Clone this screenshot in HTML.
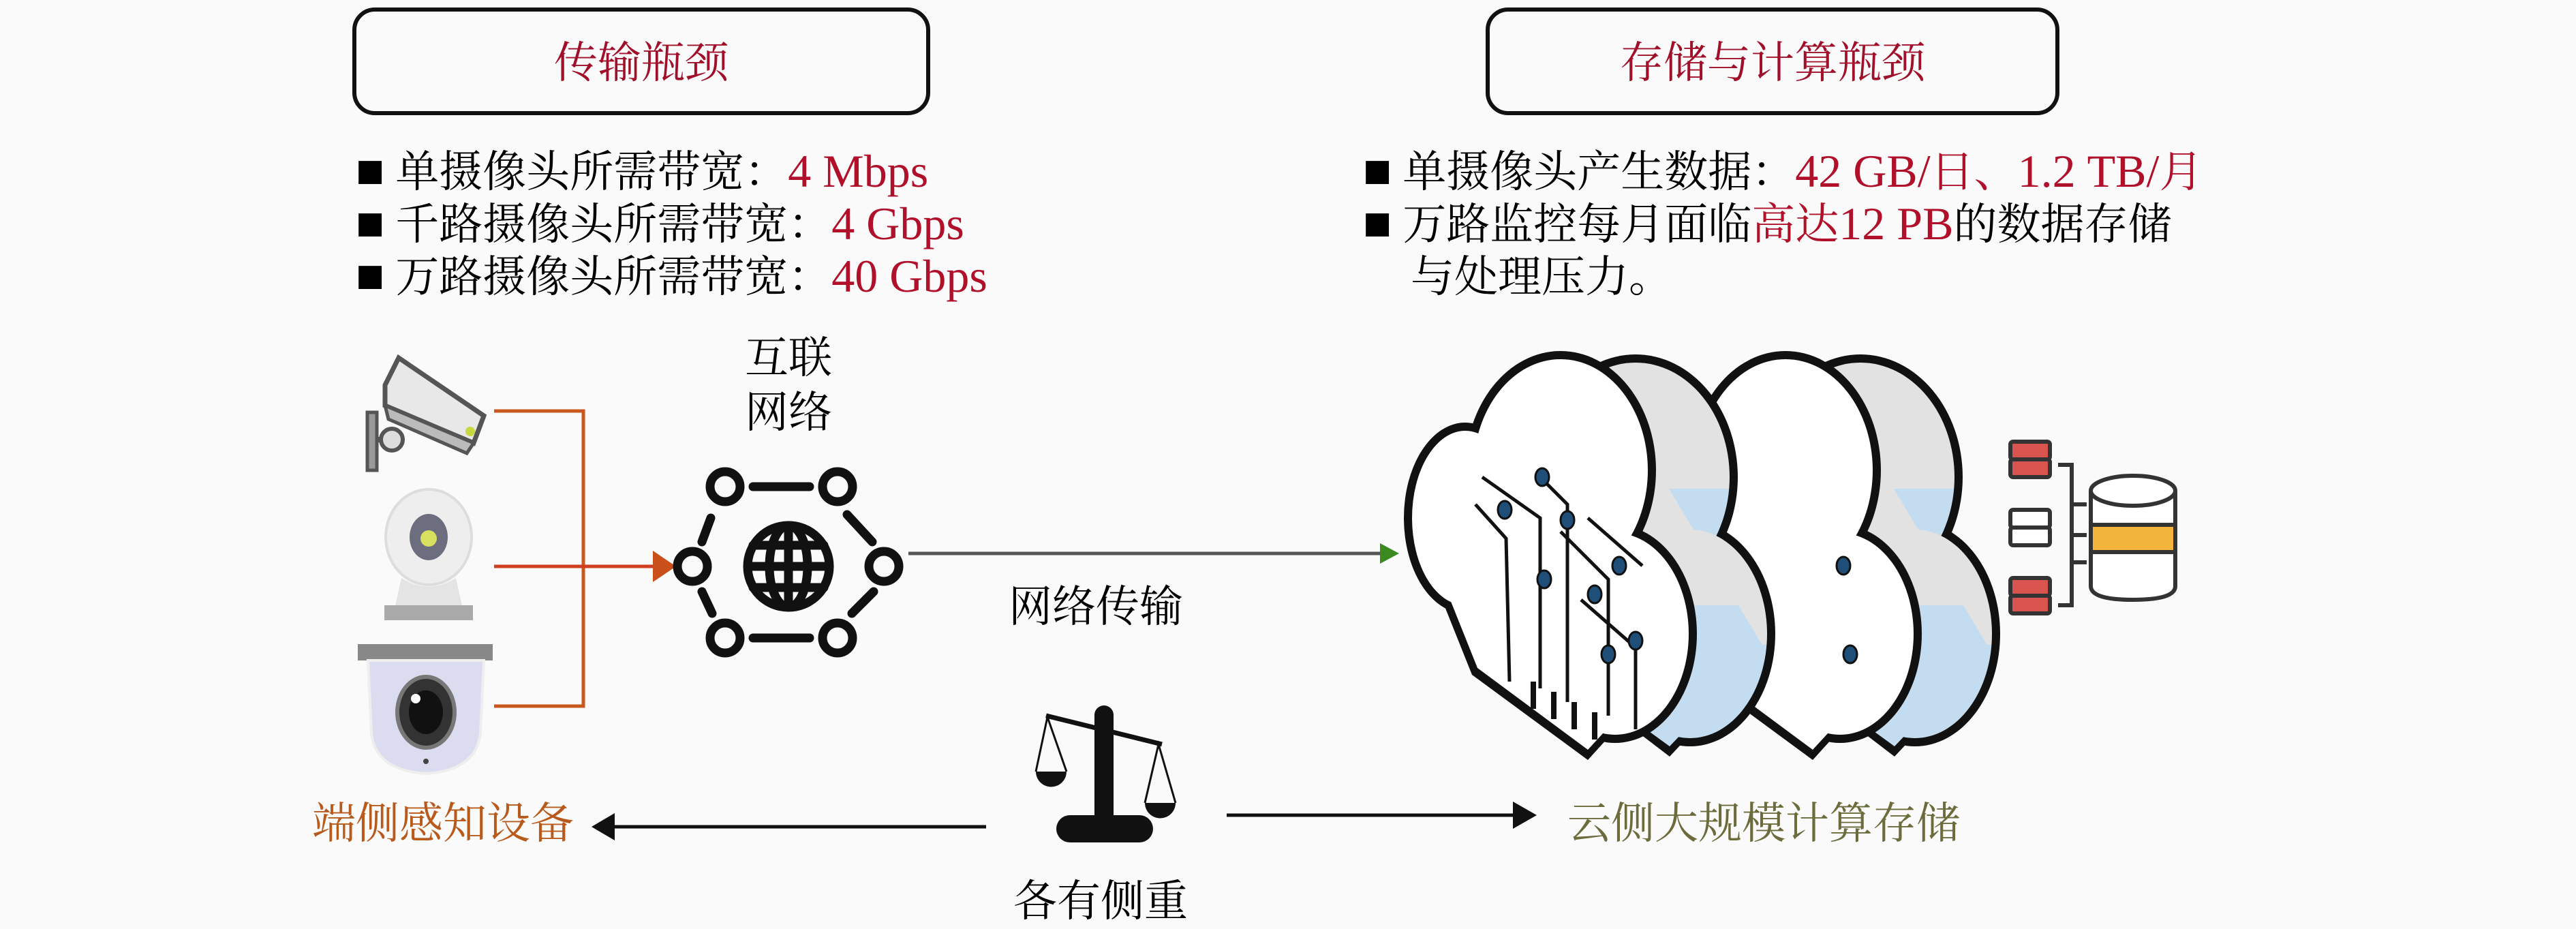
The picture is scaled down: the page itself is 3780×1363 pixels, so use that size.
<!DOCTYPE html>
<html><head><meta charset="utf-8"><style>
html,body{margin:0;padding:0;background:#fafafa}
svg{display:block}
text{font-family:"Liberation Serif","Noto Serif CJK SC",serif}
</style></head><body>
<svg width="3780" height="1363" viewBox="0 0 3780 1363" xmlns="http://www.w3.org/2000/svg">
<defs>
<linearGradient id="side" x1="0" y1="0" x2="0" y2="1" gradientUnits="objectBoundingBox">
<stop offset="0" stop-color="#e2e2e2"/><stop offset="0.55" stop-color="#e2e2e2"/><stop offset="0.55" stop-color="#c4dcef"/><stop offset="1" stop-color="#c4dcef"/>
</linearGradient>
</defs>
<rect width="3780" height="1363" fill="#fafafa"/>

<!-- top boxes -->
<rect x="520" y="14" width="842" height="152" rx="30" fill="none" stroke="#111" stroke-width="6"/>
<text x="941" y="114" font-size="64" fill="#a0102a" text-anchor="middle">传输瓶颈</text>
<rect x="2183" y="14" width="836" height="152" rx="30" fill="none" stroke="#111" stroke-width="6"/>
<text x="2601" y="114" font-size="64" fill="#a0102a" text-anchor="middle">存储与计算瓶颈</text>

<!-- bullets -->
<g font-size="64">
<text x="522" y="274"><tspan font-size="70">■</tspan> 单摄像头所需带宽：<tspan fill="#b0102a" font-size="68">4 Mbps</tspan></text>
<text x="522" y="351"><tspan font-size="70">■</tspan> 千路摄像头所需带宽：<tspan fill="#b0102a" font-size="68">4 Gbps</tspan></text>
<text x="522" y="428"><tspan font-size="70">■</tspan> 万路摄像头所需带宽：<tspan fill="#b0102a" font-size="68">40 Gbps</tspan></text>
<text x="2000" y="274"><tspan font-size="70">■</tspan> 单摄像头产生数据：<tspan fill="#b0102a"><tspan font-size="68">42 GB/</tspan>日、<tspan font-size="68">1.2 TB/</tspan>月</tspan></text>
<text x="2000" y="351"><tspan font-size="70">■</tspan> 万路监控每月面临<tspan fill="#b0102a">高达<tspan font-size="68">12 PB</tspan></tspan>的数据存储</text>
<text x="2070" y="428">与处理压力。</text>
</g>

<!-- cameras -->
<g>
 <g transform="translate(535,525)">
  <rect x="4" y="80" width="14" height="85" fill="#999" stroke="#555" stroke-width="5"/>
  <circle cx="40" cy="120" r="16" fill="#ddd" stroke="#555" stroke-width="6"/>
  <line x1="18" y1="120" x2="24" y2="120" stroke="#555" stroke-width="8"/>
  <polygon points="30,40 50,0 175,85 160,125 30,70" fill="#e8e8e8" stroke="#555" stroke-width="7"/>
  <polygon points="30,70 160,125 150,140 35,90" fill="#bbb" stroke="#555" stroke-width="5"/>
  <circle cx="155" cy="108" r="7" fill="#c8d840"/>
 </g>
 <g transform="translate(559,718)">
  <ellipse cx="70" cy="70" rx="63" ry="70" fill="#eee" stroke="#ddd" stroke-width="4"/>
  <ellipse cx="70" cy="70" rx="28" ry="34" fill="#6d6d80"/>
  <circle cx="70" cy="72" r="12" fill="#d8e060"/>
  <path d="M30,130 Q70,155 110,130 L120,175 L20,175 Z" fill="#e4e4e4"/>
  <rect x="5" y="170" width="130" height="22" fill="#aaa"/>
 </g>
 <g transform="translate(525,945)">
  <rect x="0" y="0" width="198" height="24" fill="#888"/>
  <path d="M15,24 L185,24 L180,130 Q175,185 100,190 Q25,185 20,130 Z" fill="#dcdcf0" stroke="#eee" stroke-width="4"/>
  <ellipse cx="100" cy="100" rx="42" ry="52" fill="#333" stroke="#777" stroke-width="6"/>
  <ellipse cx="100" cy="100" rx="25" ry="32" fill="#111"/>
  <circle cx="85" cy="80" r="7" fill="#fff"/>
  <circle cx="100" cy="172" r="4" fill="#444"/>
 </g>
</g>

<!-- orange connectors -->
<g fill="none" stroke-width="5">
 <polyline points="725,603 856,603 856,1036 725,1036" stroke="#c9581c"/>
 <line x1="725" y1="831" x2="962" y2="831" stroke="#d04020"/>
</g>
<polygon points="958,808 992,831 958,854" fill="#c9501a"/>

<text x="1157" y="547" font-size="64" text-anchor="middle">互联</text>
<text x="1157" y="627" font-size="64" text-anchor="middle">网络</text>

<!-- network icon -->
<g stroke="#111" stroke-width="13" fill="none" stroke-linecap="round">
 <circle cx="1157" cy="831" r="60"/>
 <ellipse cx="1157" cy="831" rx="28" ry="60"/>
 <line x1="1157" y1="771" x2="1157" y2="891"/>
 <line x1="1097" y1="831" x2="1217" y2="831"/>
 <line x1="1105" y1="800" x2="1209" y2="800"/>
 <line x1="1105" y1="862" x2="1209" y2="862"/>
 <circle cx="1064" cy="714" r="22"/><circle cx="1229" cy="714" r="22"/>
 <circle cx="1016" cy="831" r="22"/><circle cx="1297" cy="831" r="22"/>
 <circle cx="1064" cy="936" r="22"/><circle cx="1229" cy="936" r="22"/>
 <line x1="1105" y1="714" x2="1188" y2="714"/>
 <line x1="1105" y1="936" x2="1188" y2="936"/>
 <line x1="1043" y1="760" x2="1030" y2="795"/>
 <line x1="1243" y1="755" x2="1280" y2="795"/>
 <line x1="1030" y1="868" x2="1045" y2="900"/>
 <line x1="1282" y1="868" x2="1250" y2="900"/>
</g>

<line x1="1333" y1="812" x2="2030" y2="812" stroke="#555" stroke-width="5"/>
<polygon points="2025,797 2053,812 2025,827" fill="#3a8a20"/>
<text x="1608" y="912" font-size="64" text-anchor="middle">网络传输</text>

<!-- clouds -->
<g id="cloud2" transform="translate(330,0)">
 <g fill="#111">
  <ellipse cx="2260" cy="740" rx="100" ry="140"/><ellipse cx="2400" cy="700" rx="150" ry="180"/><ellipse cx="2480" cy="930" rx="125" ry="165"/>
  <polygon points="2190,790 2400,620 2600,950 2450,1110 2280,980"/>
 </g>
 <g fill="url(#side)">
  <ellipse cx="2260" cy="740" rx="88" ry="128"/><ellipse cx="2400" cy="700" rx="138" ry="168"/><ellipse cx="2480" cy="930" rx="113" ry="153"/>
  <polygon points="2200,790 2400,635 2588,950 2450,1095 2285,975"/>
 </g>
 <g fill="#111">
  <ellipse cx="2150" cy="760" rx="90" ry="140"/><ellipse cx="2290" cy="690" rx="140" ry="175"/><ellipse cx="2370" cy="930" rx="120" ry="160"/>
  <polygon points="2080,790 2290,620 2480,950 2330,1115 2160,990"/>
 </g>
 <g fill="#fff">
  <ellipse cx="2150" cy="760" rx="78" ry="128"/><ellipse cx="2290" cy="690" rx="128" ry="163"/><ellipse cx="2370" cy="930" rx="108" ry="148"/>
  <polygon points="2092,790 2290,635 2468,950 2330,1100 2168,980"/>
 </g>
</g>
<g id="cloud1">
 <g fill="#111">
  <ellipse cx="2260" cy="740" rx="100" ry="140"/><ellipse cx="2400" cy="700" rx="150" ry="180"/><ellipse cx="2480" cy="930" rx="125" ry="165"/>
  <polygon points="2190,790 2400,620 2600,950 2450,1110 2280,980"/>
 </g>
 <g fill="url(#side)">
  <ellipse cx="2260" cy="740" rx="88" ry="128"/><ellipse cx="2400" cy="700" rx="138" ry="168"/><ellipse cx="2480" cy="930" rx="113" ry="153"/>
  <polygon points="2200,790 2400,635 2588,950 2450,1095 2285,975"/>
 </g>
 <g fill="#111">
  <ellipse cx="2150" cy="760" rx="90" ry="140"/><ellipse cx="2290" cy="690" rx="140" ry="175"/><ellipse cx="2370" cy="930" rx="120" ry="160"/>
  <polygon points="2080,790 2290,620 2480,950 2330,1115 2160,990"/>
 </g>
 <g fill="#fff">
  <ellipse cx="2150" cy="760" rx="78" ry="128"/><ellipse cx="2290" cy="690" rx="128" ry="163"/><ellipse cx="2370" cy="930" rx="108" ry="148"/>
  <polygon points="2092,790 2290,635 2468,950 2330,1100 2168,980"/>
 </g>
 <g stroke="#111" stroke-width="5" fill="none">
  <polyline points="2175,700 2260,760 2260,1010"/>
  <polyline points="2165,740 2210,790 2215,1000"/>
  <polyline points="2260,700 2300,740 2300,1030"/>
  <polyline points="2290,780 2360,850 2360,1050"/>
  <polyline points="2320,880 2400,950 2400,1070"/>
  <polyline points="2330,760 2410,830"/>
 </g>
 <g fill="#1f4e79" stroke="#111" stroke-width="3">
  <ellipse cx="2263" cy="700" rx="10" ry="13"/><ellipse cx="2208" cy="748" rx="10" ry="13"/>
  <ellipse cx="2300" cy="763" rx="10" ry="13"/><ellipse cx="2266" cy="850" rx="10" ry="13"/>
  <ellipse cx="2376" cy="830" rx="10" ry="13"/><ellipse cx="2340" cy="872" rx="10" ry="13"/>
  <ellipse cx="2400" cy="940" rx="10" ry="13"/><ellipse cx="2360" cy="960" rx="10" ry="13"/>
 </g>
 <g stroke="#111" stroke-width="8">
  <line x1="2250" y1="1000" x2="2250" y2="1040"/><line x1="2280" y1="1015" x2="2280" y2="1055"/>
  <line x1="2310" y1="1030" x2="2310" y2="1070"/><line x1="2340" y1="1045" x2="2340" y2="1085"/>
 </g>
</g>
<g transform="translate(330,0)" fill="#1f4e79" stroke="#111" stroke-width="3">
 <ellipse cx="2375" cy="830" rx="10" ry="13"/><ellipse cx="2385" cy="960" rx="10" ry="13"/>
</g>

<!-- server icon -->
<g stroke="#333" stroke-width="6">
 <rect x="2950" y="648" width="58" height="26" rx="4" fill="#d9534f"/>
 <rect x="2950" y="674" width="58" height="26" rx="4" fill="#d9534f"/>
 <rect x="2950" y="748" width="58" height="26" rx="4" fill="#fff"/>
 <rect x="2950" y="774" width="58" height="26" rx="4" fill="#fff"/>
 <rect x="2950" y="848" width="58" height="26" rx="4" fill="#d9534f"/>
 <rect x="2950" y="874" width="58" height="26" rx="4" fill="#d9534f"/>
 <polyline points="3020,682 3040,682 3040,888 3020,888" fill="none"/>
 <line x1="3040" y1="740" x2="3062" y2="740"/><line x1="3040" y1="785" x2="3062" y2="785"/><line x1="3040" y1="825" x2="3062" y2="825"/>
 <path d="M3068,720 L3068,860 Q3068,880 3130,880 Q3192,880 3192,860 L3192,720" fill="#fff"/>
 <rect x="3068" y="770" width="124" height="40" fill="#f2b43a"/>
 <ellipse cx="3130" cy="720" rx="62" ry="22" fill="#fff"/>
</g>

<!-- scale icon -->
<g fill="#111">
 <rect x="1606" y="1035" width="28" height="180" rx="14"/>
 <rect x="1550" y="1196" width="142" height="40" rx="20"/>
 <line x1="1535" y1="1050" x2="1705" y2="1092" stroke="#111" stroke-width="7"/>
 <path d="M1520,1132 A22,22 0 0 0 1565,1132 Z"/>
 <path d="M1680,1178 A22,22 0 0 0 1725,1178 Z"/>
 <g stroke="#111" stroke-width="3" fill="none">
  <polyline points="1520,1132 1537,1052 1565,1132"/>
  <polyline points="1680,1178 1700,1092 1725,1178"/>
 </g>
</g>
<text x="1615" y="1344" font-size="64" text-anchor="middle">各有侧重</text>

<line x1="1447" y1="1213" x2="885" y2="1213" stroke="#111" stroke-width="5"/>
<polygon points="902,1193 868,1213 902,1233" fill="#111"/>
<line x1="1800" y1="1196" x2="2225" y2="1196" stroke="#111" stroke-width="5"/>
<polygon points="2220,1176 2255,1196 2220,1216" fill="#111"/>

<text x="458" y="1230" font-size="64" fill="#b85a1c">端侧感知设备</text>
<text x="2300" y="1230" font-size="64" fill="#6b6b3c">云侧大规模计算存储</text>
</svg>
</body></html>
